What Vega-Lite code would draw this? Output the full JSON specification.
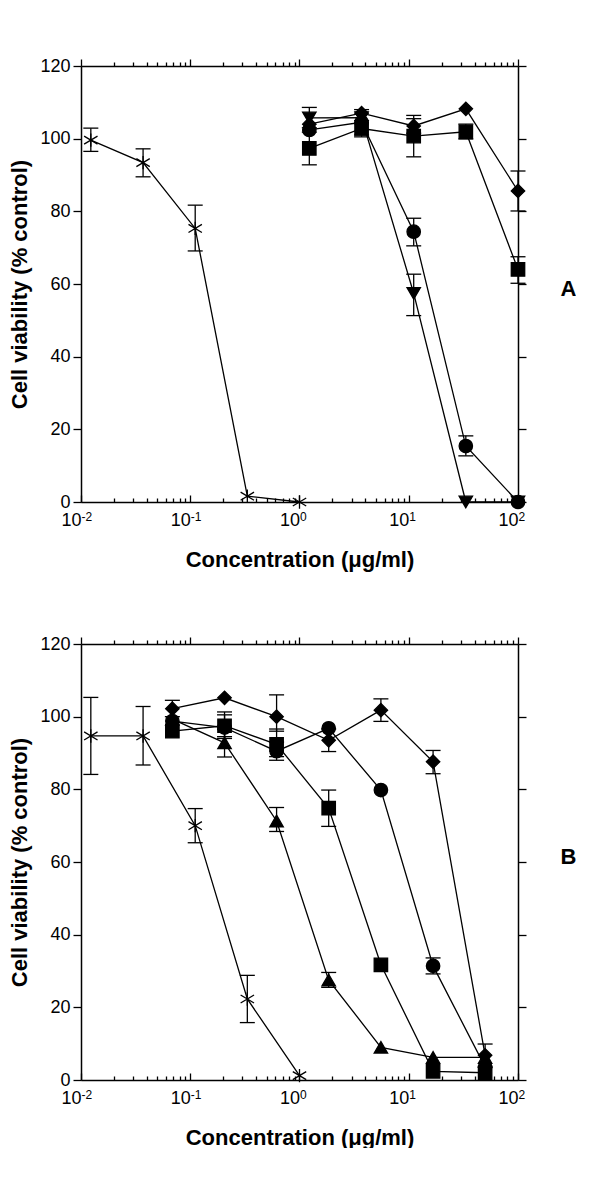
{
  "$schema": "https://vega.github.io/schema/vega-lite/v6.json",
  "padding": {"left": 8, "top": 57, "right": 0, "bottom": 0},
  "background": "white",
  "config": {
    "font": "Liberation Sans",
    "view": {"stroke": null},
    "axis": {"domainColor": "black", "tickColor": "black", "labelColor": "black", "titleColor": "black", "grid": false, "labelFont": "Liberation Sans", "titleFont": "Liberation Sans", "domainWidth": 1.5, "tickWidth": 1.3, "labelFlush": false, "labelOverlap": false}
  },
  "datasets": {
    "pts": [
      {"panel": "A", "series": "ast", "x": 0.0123, "y": 99.6, "lo": 96.5, "hi": 102.9},
      {"panel": "A", "series": "ast", "x": 0.037, "y": 93.4, "lo": 89.5, "hi": 97.2},
      {"panel": "A", "series": "ast", "x": 0.111, "y": 75.3, "lo": 69.1, "hi": 81.7},
      {"panel": "A", "series": "ast", "x": 0.333, "y": 1.6},
      {"panel": "A", "series": "ast", "x": 1.0, "y": 0},
      {"panel": "A", "series": "dia", "x": 1.23, "y": 104.0},
      {"panel": "A", "series": "dia", "x": 3.7, "y": 107.0},
      {"panel": "A", "series": "dia", "x": 11.1, "y": 103.5, "lo": 101.5, "hi": 105.5},
      {"panel": "A", "series": "dia", "x": 33.3, "y": 108.2},
      {"panel": "A", "series": "dia", "x": 100, "y": 85.6, "lo": 80.1, "hi": 91.1},
      {"panel": "A", "series": "sq", "x": 1.23, "y": 97.3, "lo": 92.8, "hi": 101.8},
      {"panel": "A", "series": "sq", "x": 3.7, "y": 102.8, "lo": 100.5, "hi": 105.0},
      {"panel": "A", "series": "sq", "x": 11.1, "y": 100.7, "lo": 95.0, "hi": 106.4},
      {"panel": "A", "series": "sq", "x": 33.3, "y": 101.9, "lo": 99.9, "hi": 104.0},
      {"panel": "A", "series": "sq", "x": 100, "y": 64.0, "lo": 60.2, "hi": 67.5},
      {"panel": "A", "series": "cir", "x": 1.23, "y": 102.4},
      {"panel": "A", "series": "cir", "x": 3.7, "y": 104.5, "lo": 101.0, "hi": 108.0},
      {"panel": "A", "series": "cir", "x": 11.1, "y": 74.4, "lo": 70.5, "hi": 78.1},
      {"panel": "A", "series": "cir", "x": 33.3, "y": 15.4, "lo": 12.7, "hi": 18.2},
      {"panel": "A", "series": "cir", "x": 100, "y": 0},
      {"panel": "A", "series": "tdown", "x": 1.23, "y": 105.7, "lo": 103.0, "hi": 108.6},
      {"panel": "A", "series": "tdown", "x": 3.7, "y": 105.8},
      {"panel": "A", "series": "tdown", "x": 11.1, "y": 57.4, "lo": 51.3, "hi": 62.7},
      {"panel": "A", "series": "tdown", "x": 33.3, "y": 0},
      {"panel": "A", "series": "tdown", "x": 100, "y": 0},
      {"panel": "B", "series": "ast", "x": 0.0123, "y": 94.7, "lo": 84.1, "hi": 105.3},
      {"panel": "B", "series": "ast", "x": 0.037, "y": 94.7, "lo": 86.7, "hi": 102.8},
      {"panel": "B", "series": "ast", "x": 0.111, "y": 70.0, "lo": 65.3, "hi": 74.7},
      {"panel": "B", "series": "ast", "x": 0.333, "y": 22.3, "lo": 15.8, "hi": 28.8},
      {"panel": "B", "series": "ast", "x": 1.0, "y": 1.2},
      {"panel": "B", "series": "dia", "x": 0.0686, "y": 102.2, "lo": 100.0, "hi": 104.5},
      {"panel": "B", "series": "dia", "x": 0.206, "y": 105.2},
      {"panel": "B", "series": "dia", "x": 0.617, "y": 100.0, "lo": 96.0, "hi": 106.0},
      {"panel": "B", "series": "dia", "x": 1.85, "y": 93.5, "lo": 90.4, "hi": 96.6},
      {"panel": "B", "series": "dia", "x": 5.56, "y": 101.8, "lo": 98.7, "hi": 104.9},
      {"panel": "B", "series": "dia", "x": 16.7, "y": 87.6, "lo": 84.3, "hi": 90.7},
      {"panel": "B", "series": "dia", "x": 50, "y": 6.8, "lo": 3.5, "hi": 9.9},
      {"panel": "B", "series": "cir", "x": 0.0686, "y": 98.8},
      {"panel": "B", "series": "cir", "x": 0.206, "y": 97.0, "lo": 94.0, "hi": 101.3},
      {"panel": "B", "series": "cir", "x": 0.617, "y": 90.5, "lo": 88.0, "hi": 93.0},
      {"panel": "B", "series": "cir", "x": 1.85, "y": 96.8},
      {"panel": "B", "series": "cir", "x": 5.56, "y": 79.8},
      {"panel": "B", "series": "cir", "x": 16.7, "y": 31.4, "lo": 29.2, "hi": 33.6},
      {"panel": "B", "series": "cir", "x": 50, "y": 3.6},
      {"panel": "B", "series": "sq", "x": 0.0686, "y": 96.0},
      {"panel": "B", "series": "sq", "x": 0.206, "y": 97.5, "lo": 94.5, "hi": 100.5},
      {"panel": "B", "series": "sq", "x": 0.617, "y": 92.4, "lo": 89.0, "hi": 96.6},
      {"panel": "B", "series": "sq", "x": 1.85, "y": 74.8, "lo": 69.8, "hi": 79.8},
      {"panel": "B", "series": "sq", "x": 5.56, "y": 31.7},
      {"panel": "B", "series": "sq", "x": 16.7, "y": 2.4},
      {"panel": "B", "series": "sq", "x": 50, "y": 2.0},
      {"panel": "B", "series": "tup", "x": 0.0686, "y": 99.3},
      {"panel": "B", "series": "tup", "x": 0.206, "y": 92.8, "lo": 88.9, "hi": 96.5},
      {"panel": "B", "series": "tup", "x": 0.617, "y": 71.3, "lo": 68.4, "hi": 75.0},
      {"panel": "B", "series": "tup", "x": 1.85, "y": 27.5, "lo": 25.5, "hi": 29.6},
      {"panel": "B", "series": "tup", "x": 5.56, "y": 9.0},
      {"panel": "B", "series": "tup", "x": 16.7, "y": 6.2},
      {"panel": "B", "series": "tup", "x": 50, "y": 6.2}
    ]
  },
  "data": {"name": "pts"},
  "spacing": 65,
  "vconcat": [
    {
      "width": 437, "height": 436,
      "transform": [{"filter": "datum.panel === 'A'"}],
      "resolve": {"axis": {"x": "independent", "y": "independent"}},
      "layer": [
        {
          "mark": {"type": "line", "color": "black", "strokeWidth": 1.3},
          "encoding": {
            "x": {"field": "x", "type": "quantitative", "scale": {"type": "log", "domain": [0.01, 100], "nice": false},
              "axis": {"orient": "bottom", "values": [0.01, 0.1, 1, 10, 100], "ticks": false, "domain": true, "labelFontSize": 18, "labelPadding": 9, "labelAlign": "right", "labelDx": 5,
                "labelExpr": "'10'",
                "title": "Concentration (μg/ml)", "titleFontSize": 22, "titleFontWeight": "bold", "titlePadding": 20}},
            "y": {"field": "y", "type": "quantitative", "scale": {"domain": [0, 120], "nice": false},
              "axis": {"orient": "left", "values": [0, 20, 40, 60, 80, 100, 120], "tickSize": 8, "labelPadding": 3, "labelFontSize": 18,
                "title": "Cell viability (% control)", "titleFontSize": 22, "titleFontWeight": "bold", "titlePadding": 8}},
            "detail": {"field": "series"}
          }
        },
        {
          "mark": {"type": "rule", "color": "black", "strokeWidth": 1.3},
          "encoding": {
            "x": {"field": "x", "type": "quantitative", "scale": {"type": "log", "domain": [0.01, 100], "nice": false},
              "axis": {"orient": "bottom", "values": [0.01, 0.1, 1, 10, 100], "labels": false, "domain": false, "tickSize": -7, "title": null}},
            "y": {"field": "lo", "type": "quantitative", "scale": {"domain": [0, 120], "nice": false},
              "axis": {"orient": "right", "values": [0, 20, 40, 60, 80, 100, 120], "tickSize": 8, "labels": false,
                "title": "A", "titleFontSize": 22, "titleFontWeight": "bold", "titleAngle": 0, "titleAlign": "center", "titleBaseline": "middle", "titleX": 50, "titleY": 222}},
            "y2": {"field": "y"}
          }
        },
        {
          "mark": {"type": "rule", "color": "black", "strokeWidth": 1.3},
          "encoding": {
            "x": {"field": "x", "type": "quantitative", "scale": {"type": "log", "domain": [0.01, 100], "nice": false},
              "axis": {"orient": "bottom", "values": [0.01, 0.1, 1, 10, 100], "ticks": false, "domain": false, "labelFontSize": 12, "labelPadding": 9, "labelAlign": "left", "labelDx": 6, "labelDy": -4,
                "labelExpr": "datum.value < 0.05 ? '-2' : datum.value < 0.5 ? '-1' : datum.value < 5 ? '0' : datum.value < 50 ? '1' : '2'", "title": null}},
            "y": {"field": "y", "type": "quantitative", "scale": {"domain": [0, 120], "nice": false}, "axis": null},
            "y2": {"field": "hi"}
          }
        },
        {
          "mark": {"type": "tick", "orient": "horizontal", "color": "black", "size": 15, "thickness": 1.3, "opacity": 1},
          "encoding": {
            "x": {"field": "x", "type": "quantitative", "scale": {"type": "log", "domain": [0.01, 100], "nice": false},
              "axis": {"orient": "bottom", "values": [0.02, 0.03, 0.04, 0.05, 0.06, 0.07, 0.08, 0.09, 0.2, 0.3, 0.4, 0.5, 0.6, 0.7, 0.8, 0.9, 2, 3, 4, 5, 6, 7, 8, 9, 20, 30, 40, 50, 60, 70, 80, 90], "labels": false, "domain": false, "tickSize": -4, "title": null}},
            "y": {"field": "lo", "type": "quantitative", "scale": {"domain": [0, 120], "nice": false}, "axis": null}
          }
        },
        {
          "mark": {"type": "tick", "orient": "horizontal", "color": "black", "size": 15, "thickness": 1.3, "opacity": 1},
          "encoding": {
            "x": {"field": "x", "type": "quantitative", "scale": {"type": "log", "domain": [0.01, 100], "nice": false},
              "axis": {"orient": "top", "values": [0.01, 0.1, 1, 10, 100], "labels": false, "domain": true, "tickSize": 7, "title": null}},
            "y": {"field": "hi", "type": "quantitative", "scale": {"domain": [0, 120], "nice": false}, "axis": null}
          }
        },
        {
          "mark": {"type": "point", "filled": true, "fill": "black", "stroke": "black", "strokeWidth": 1.3, "opacity": 1, "size": 180},
          "encoding": {
            "x": {"field": "x", "type": "quantitative", "scale": {"type": "log", "domain": [0.01, 100], "nice": false},
              "axis": {"orient": "top", "values": [0.02, 0.03, 0.04, 0.05, 0.06, 0.07, 0.08, 0.09, 0.2, 0.3, 0.4, 0.5, 0.6, 0.7, 0.8, 0.9, 2, 3, 4, 5, 6, 7, 8, 9, 20, 30, 40, 50, 60, 70, 80, 90], "labels": false, "domain": false, "tickSize": 4, "title": null}},
            "y": {"field": "y", "type": "quantitative", "scale": {"domain": [0, 120], "nice": false}, "axis": null},
            "shape": {"field": "series", "type": "nominal", "legend": null,
              "scale": {"domain": ["ast", "dia", "sq", "cir", "tdown", "tup"], "range": ["M0,-1L0,1M-1,-0.6L1,0.6M-1,0.6L1,-0.6", "diamond", "square", "circle", "triangle-down", "triangle-up"]}}
          }
        }
      ]
    },
    {
      "width": 437, "height": 436,
      "transform": [{"filter": "datum.panel === 'B'"}],
      "resolve": {"axis": {"x": "independent", "y": "independent"}},
      "layer": [
        {
          "mark": {"type": "line", "color": "black", "strokeWidth": 1.3},
          "encoding": {
            "x": {"field": "x", "type": "quantitative", "scale": {"type": "log", "domain": [0.01, 100], "nice": false},
              "axis": {"orient": "bottom", "values": [0.01, 0.1, 1, 10, 100], "ticks": false, "domain": true, "labelFontSize": 18, "labelPadding": 9, "labelAlign": "right", "labelDx": 5,
                "labelExpr": "'10'",
                "title": "Concentration (μg/ml)", "titleFontSize": 22, "titleFontWeight": "bold", "titlePadding": 20}},
            "y": {"field": "y", "type": "quantitative", "scale": {"domain": [0, 120], "nice": false},
              "axis": {"orient": "left", "values": [0, 20, 40, 60, 80, 100, 120], "tickSize": 8, "labelPadding": 3, "labelFontSize": 18,
                "title": "Cell viability (% control)", "titleFontSize": 22, "titleFontWeight": "bold", "titlePadding": 8}},
            "detail": {"field": "series"}
          }
        },
        {
          "mark": {"type": "rule", "color": "black", "strokeWidth": 1.3},
          "encoding": {
            "x": {"field": "x", "type": "quantitative", "scale": {"type": "log", "domain": [0.01, 100], "nice": false},
              "axis": {"orient": "bottom", "values": [0.01, 0.1, 1, 10, 100], "labels": false, "domain": false, "tickSize": -7, "title": null}},
            "y": {"field": "lo", "type": "quantitative", "scale": {"domain": [0, 120], "nice": false},
              "axis": {"orient": "right", "values": [0, 20, 40, 60, 80, 100, 120], "tickSize": 8, "labels": false,
                "title": "B", "titleFontSize": 22, "titleFontWeight": "bold", "titleAngle": 0, "titleAlign": "center", "titleBaseline": "middle", "titleX": 50, "titleY": 212}},
            "y2": {"field": "y"}
          }
        },
        {
          "mark": {"type": "rule", "color": "black", "strokeWidth": 1.3},
          "encoding": {
            "x": {"field": "x", "type": "quantitative", "scale": {"type": "log", "domain": [0.01, 100], "nice": false},
              "axis": {"orient": "bottom", "values": [0.01, 0.1, 1, 10, 100], "ticks": false, "domain": false, "labelFontSize": 12, "labelPadding": 9, "labelAlign": "left", "labelDx": 6, "labelDy": -4,
                "labelExpr": "datum.value < 0.05 ? '-2' : datum.value < 0.5 ? '-1' : datum.value < 5 ? '0' : datum.value < 50 ? '1' : '2'", "title": null}},
            "y": {"field": "y", "type": "quantitative", "scale": {"domain": [0, 120], "nice": false}, "axis": null},
            "y2": {"field": "hi"}
          }
        },
        {
          "mark": {"type": "tick", "orient": "horizontal", "color": "black", "size": 15, "thickness": 1.3, "opacity": 1},
          "encoding": {
            "x": {"field": "x", "type": "quantitative", "scale": {"type": "log", "domain": [0.01, 100], "nice": false},
              "axis": {"orient": "bottom", "values": [0.02, 0.03, 0.04, 0.05, 0.06, 0.07, 0.08, 0.09, 0.2, 0.3, 0.4, 0.5, 0.6, 0.7, 0.8, 0.9, 2, 3, 4, 5, 6, 7, 8, 9, 20, 30, 40, 50, 60, 70, 80, 90], "labels": false, "domain": false, "tickSize": -4, "title": null}},
            "y": {"field": "lo", "type": "quantitative", "scale": {"domain": [0, 120], "nice": false}, "axis": null}
          }
        },
        {
          "mark": {"type": "tick", "orient": "horizontal", "color": "black", "size": 15, "thickness": 1.3, "opacity": 1},
          "encoding": {
            "x": {"field": "x", "type": "quantitative", "scale": {"type": "log", "domain": [0.01, 100], "nice": false},
              "axis": {"orient": "top", "values": [0.01, 0.1, 1, 10, 100], "labels": false, "domain": true, "tickSize": 7, "title": null}},
            "y": {"field": "hi", "type": "quantitative", "scale": {"domain": [0, 120], "nice": false}, "axis": null}
          }
        },
        {
          "mark": {"type": "point", "filled": true, "fill": "black", "stroke": "black", "strokeWidth": 1.3, "opacity": 1, "size": 180},
          "encoding": {
            "x": {"field": "x", "type": "quantitative", "scale": {"type": "log", "domain": [0.01, 100], "nice": false},
              "axis": {"orient": "top", "values": [0.02, 0.03, 0.04, 0.05, 0.06, 0.07, 0.08, 0.09, 0.2, 0.3, 0.4, 0.5, 0.6, 0.7, 0.8, 0.9, 2, 3, 4, 5, 6, 7, 8, 9, 20, 30, 40, 50, 60, 70, 80, 90], "labels": false, "domain": false, "tickSize": 4, "title": null}},
            "y": {"field": "y", "type": "quantitative", "scale": {"domain": [0, 120], "nice": false}, "axis": null},
            "shape": {"field": "series", "type": "nominal", "legend": null,
              "scale": {"domain": ["ast", "dia", "sq", "cir", "tdown", "tup"], "range": ["M0,-1L0,1M-1,-0.6L1,0.6M-1,0.6L1,-0.6", "diamond", "square", "circle", "triangle-down", "triangle-up"]}}
          }
        }
      ]
    }
  ]
}
